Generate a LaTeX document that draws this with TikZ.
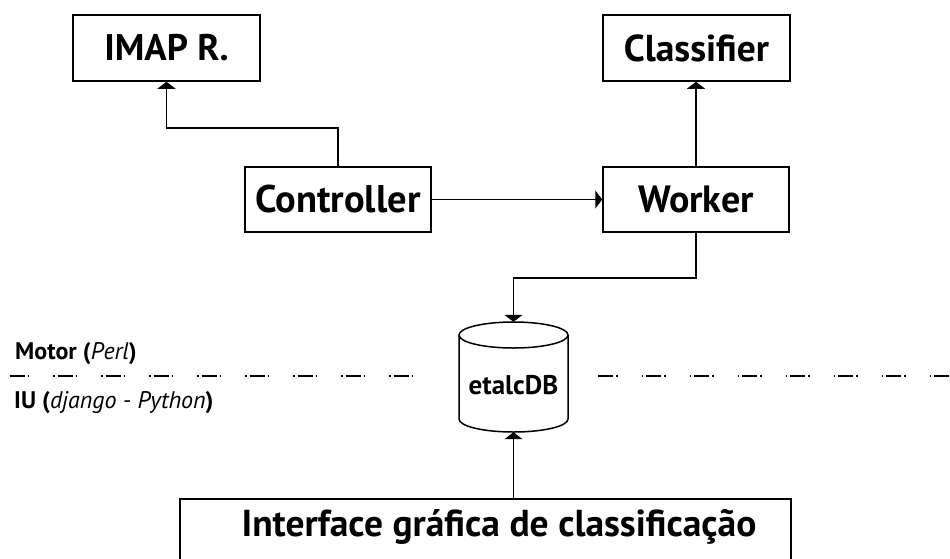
\documentclass[tikz,border=0pt]{standalone}
\usepackage{fontspec}
\setmainfont{PT Sans}
\usetikzlibrary{arrows.meta}
\tikzset{
  box/.style={draw, line width=1.5pt, rectangle, inner sep=0pt, font=\bfseries},
  arr/.style={line width=1.5pt, -{Triangle[length=7pt,width=18pt]}},
  sep/.style={line width=1.5pt, dash pattern=on 1.5pt off 3pt on 15pt off 3pt on 1.5pt off 24pt},
  lbl/.style={inner sep=0pt, anchor=base west, font=\fontsize{24}{26}\selectfont}
}
\begin{document}
\begin{tikzpicture}[x=1pt,y=-1pt]
\useasboundingbox (0,0) rectangle (950,558);
\clip (0,0) rectangle (950,558);
\fill[white] (0,0) rectangle (950,558);
% boxes
\node[box, minimum width=187pt, minimum height=66pt, font=\bfseries\fontsize{37}{39}\selectfont] (imap) at (166.5,48) {IMAP R.};
\node[box, minimum width=187pt, minimum height=66pt, font=\bfseries\fontsize{37.5}{39}\selectfont] (classifier) at (696.5,48) {Classifier};
\node[box, minimum width=186pt, minimum height=65pt, font=\bfseries\fontsize{38.5}{40}\selectfont] (controller) at (338,199.5) {Controller};
\node[box, minimum width=186pt, minimum height=65pt, font=\bfseries\fontsize{38}{40}\selectfont] (worker) at (696,199.5) {Worker};
% database
\node[inner sep=0pt, minimum width=109pt, minimum height=110pt] (db) at (513.5,377) {};
\draw[line width=1.5pt] (459,335) -- (459,419) arc[start angle=180, end angle=360, x radius=54.5, y radius=-13] -- (568,335);
\draw[line width=1.5pt] (513.5,335) ellipse[x radius=54.5, y radius=13];
\node[inner sep=0pt, font=\bfseries\fontsize{27}{29}\selectfont] (dbtext) at (513.5,385) {etalcDB};
% interface
\node[box, minimum width=611pt, minimum height=110pt, anchor=north] (interface) at (485.5,498) {};
\node[inner sep=0pt, font=\bfseries\fontsize{37.5}{40}\selectfont] (itext) at (499,527) {Interface gráfica de classificação};
% helper coordinates
\coordinate (k1) at (0,128);
\coordinate (k2) at (0,278);
% connectors
\draw[arr] (controller.north) -- (controller.north |- k1) -| (imap.south);
\draw[arr] (worker.north) -- (worker.north |- classifier.south);
\draw[arr] (controller.east) -- (worker.west);
\draw[arr] (worker.south) -- (worker.south |- k2) -| (db.north);
\draw[arr] (db.south |- interface.north) -- (db.south);
% separator
\coordinate (s1) at (9.5,376);
\coordinate (s2) at (412,376);
\coordinate (s3) at (598,376);
\coordinate (s4) at (950,376);
\draw[sep, dash phase=4.5pt] (s1) -- (s2);
\draw[sep, dash phase=4.5pt] (s3) -- (s4);
% labels
\node[lbl] (motor) at (15,359) {\textbf{Motor (}\textit{Perl}\textbf{)}};
\node[lbl] (iu) at (14,408) {\textbf{IU (}\textit{django - Python}\textbf{)}};
\end{tikzpicture}
\end{document}
